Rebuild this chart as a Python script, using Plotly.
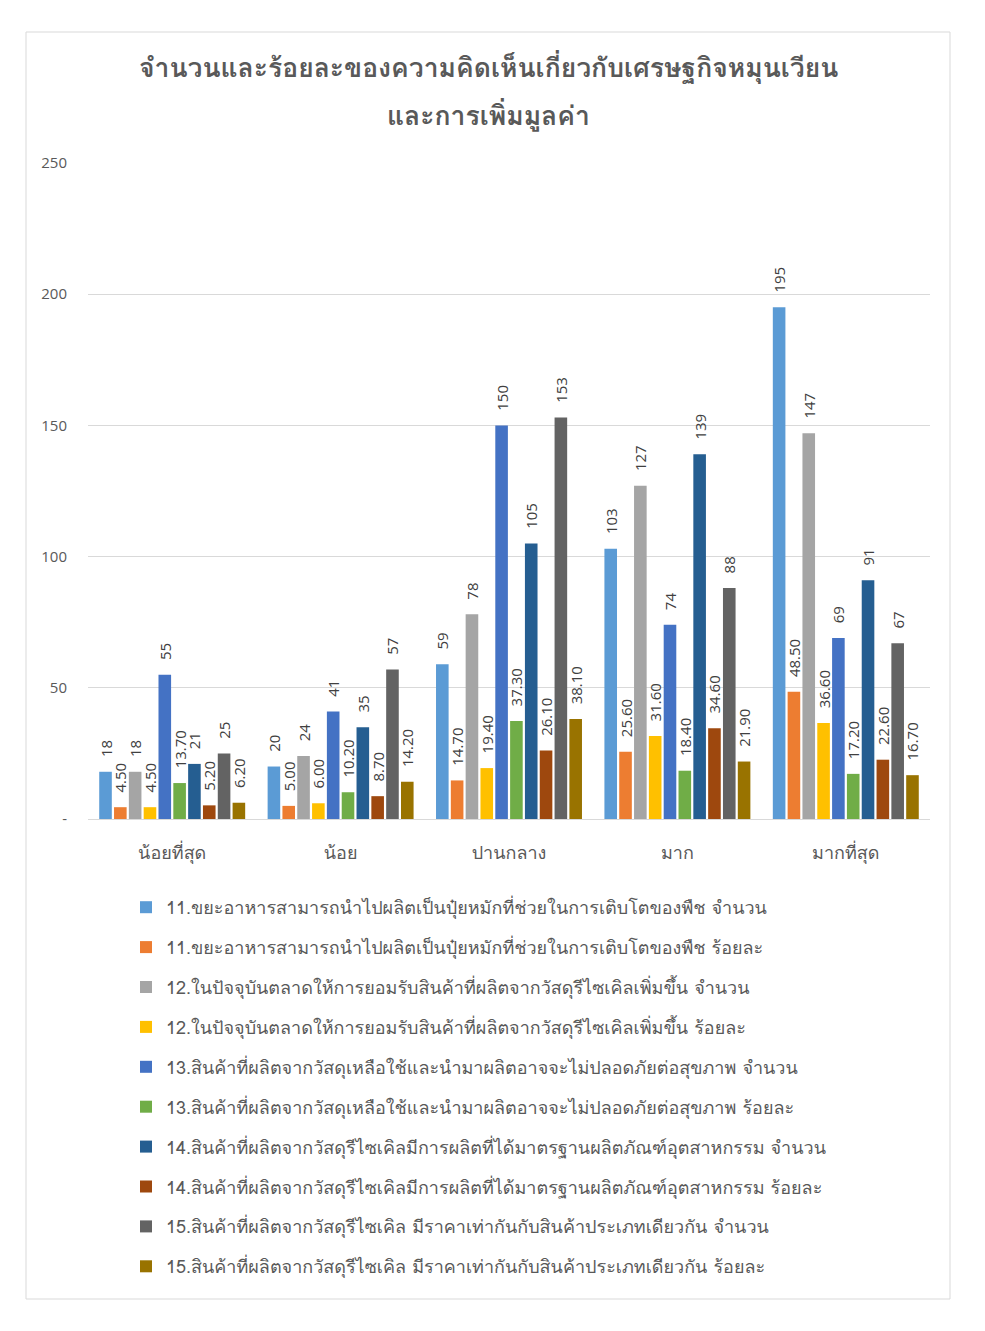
import plotly.graph_objects as go

categories = ["น้อยที่สุด", "น้อย", "ปานกลาง", "มาก", "มากที่สุด"]

series_names = [
    "11.ขยะอาหารสามารถนำไปผลิตเป็นปุ๋ยหมักที่ช่วยในการเติบโตของพืช จำนวน",
    "11.ขยะอาหารสามารถนำไปผลิตเป็นปุ๋ยหมักที่ช่วยในการเติบโตของพืช ร้อยละ",
    "12.ในปัจจุบันตลาดให้การยอมรับสินค้าที่ผลิตจากวัสดุรีไซเคิลเพิ่มขึ้น จำนวน",
    "12.ในปัจจุบันตลาดให้การยอมรับสินค้าที่ผลิตจากวัสดุรีไซเคิลเพิ่มขึ้น ร้อยละ",
    "13.สินค้าที่ผลิตจากวัสดุเหลือใช้และนำมาผลิตอาจจะไม่ปลอดภัยต่อสุขภาพ จำนวน",
    "13.สินค้าที่ผลิตจากวัสดุเหลือใช้และนำมาผลิตอาจจะไม่ปลอดภัยต่อสุขภาพ ร้อยละ",
    "14.สินค้าที่ผลิตจากวัสดุรีไซเคิลมีการผลิตที่ได้มาตรฐานผลิตภัณฑ์อุตสาหกรรม จำนวน",
    "14.สินค้าที่ผลิตจากวัสดุรีไซเคิลมีการผลิตที่ได้มาตรฐานผลิตภัณฑ์อุตสาหกรรม ร้อยละ",
    "15.สินค้าที่ผลิตจากวัสดุรีไซเคิล มีราคาเท่ากันกับสินค้าประเภทเดียวกัน จำนวน",
    "15.สินค้าที่ผลิตจากวัสดุรีไซเคิล มีราคาเท่ากันกับสินค้าประเภทเดียวกัน ร้อยละ",
]

s11_n = [18, 20, 59, 103, 195]
s11_p = [4.50, 5.00, 14.70, 25.60, 48.50]
s12_n = [18, 24, 78, 127, 147]
s12_p = [4.50, 6.00, 19.40, 31.60, 36.60]
s13_n = [55, 41, 150, 74, 69]
s13_p = [13.70, 10.20, 37.30, 18.40, 17.20]
s14_n = [21, 35, 105, 139, 91]
s14_p = [5.20, 8.70, 26.10, 34.60, 22.60]
s15_n = [25, 57, 153, 88, 67]
s15_p = [6.20, 14.20, 38.10, 21.90, 16.70]

series_values = [s11_n, s11_p, s12_n, s12_p, s13_n, s13_p, s14_n, s14_p, s15_n, s15_p]
is_percent = [False, True] * 5

colors = ["#5B9BD5", "#ED7D31", "#A5A5A5", "#FFC000", "#4472C4",
          "#70AD47", "#255E91", "#9E480E", "#636363", "#997300"]

y_tickvals = [0, 50, 100, 150, 200, 250]
y_ticktext = ["-", "50", "100", "150", "200", "250"]

title_lines = ["จำนวนและร้อยละของความคิดเห็นเกี่ยวกับเศรษฐกิจหมุนเวียน", "และการเพิ่มมูลค่า"]

FONT = "Loma, Garuda, Tahoma, Noto Sans Thai, Noto Sans, DejaVu Sans, sans-serif"
NUMFONT = "Open Sans, Noto Sans, DejaVu Sans, sans-serif"

fig = go.Figure()
for i, (name, vals) in enumerate(zip(series_names, series_values)):
    txt = ["\u00a0\u00a0\u00a0" + (f"{v:.2f}" if is_percent[i] else f"{v:g}") for v in vals]
    fig.add_trace(go.Bar(
        x=categories, y=vals, name=name,
        marker=dict(color=colors[i], line=dict(width=0)),
        text=txt, textposition="outside", textangle=-90,
        textfont=dict(size=15, color="#404040", family=NUMFONT),
        cliponaxis=False, legendgroup=f"g{i}",
    ))

OFF = 8  # page body margin
W, H = 985 - OFF, 1331 - OFF
L, R, T, B = 88 - OFF, 985 - 930, 163 - OFF, 1331 - 819
ph = H - T - B
pw = W - L - R


def px(x):
    return (x - OFF - L) / pw


def py(y):
    return (H - B - (y - OFF)) / ph


fig.update_layout(
    width=W, height=H,
    margin=dict(l=L, r=R, t=T, b=B),
    paper_bgcolor="white", plot_bgcolor="white",
    font=dict(family=FONT, color="#595959"),
    barmode="group", bargap=0.12, bargroupgap=0.15,
    showlegend=True,
    legend=dict(
        x=px(126), y=py(889), xanchor="left", yanchor="top",
        font=dict(size=18, color="#595959"),
        tracegroupgap=13.5, itemwidth=30,
        bgcolor="rgba(0,0,0,0)",
    ),
    uniformtext=dict(minsize=15, mode="show"),
)
for k, (line, ycen) in enumerate(zip(title_lines, [68, 116])):
    fig.add_annotation(
        x=px(488), y=py(ycen), xref="paper", yref="paper",
        text=f"<b>{line}</b>",
        showarrow=False, font=dict(size=26.5, color="#595959"),
        xanchor="center", yanchor="middle", align="center",
    )
fig.update_xaxes(
    showline=True, linecolor="#D9D9D9", linewidth=1,
    tickfont=dict(size=18, color="#595959"), ticks="", ticklabelstandoff=17,
)
fig.update_yaxes(
    range=[0, 250], tickvals=y_tickvals, ticktext=y_ticktext,
    showgrid=True, gridcolor="#D9D9D9", gridwidth=1,
    zeroline=False, showline=False,
    tickfont=dict(size=15, color="#595959", family=NUMFONT), ticks="", ticklabelstandoff=20,
)
fig.add_shape(
    type="rect", xref="paper", yref="paper",
    x0=px(26), x1=px(950), y0=py(1299), y1=py(32),
    line=dict(color="#D9D9D9", width=1), fillcolor="rgba(0,0,0,0)", layer="below",
)
fig.write_html("out.html")
